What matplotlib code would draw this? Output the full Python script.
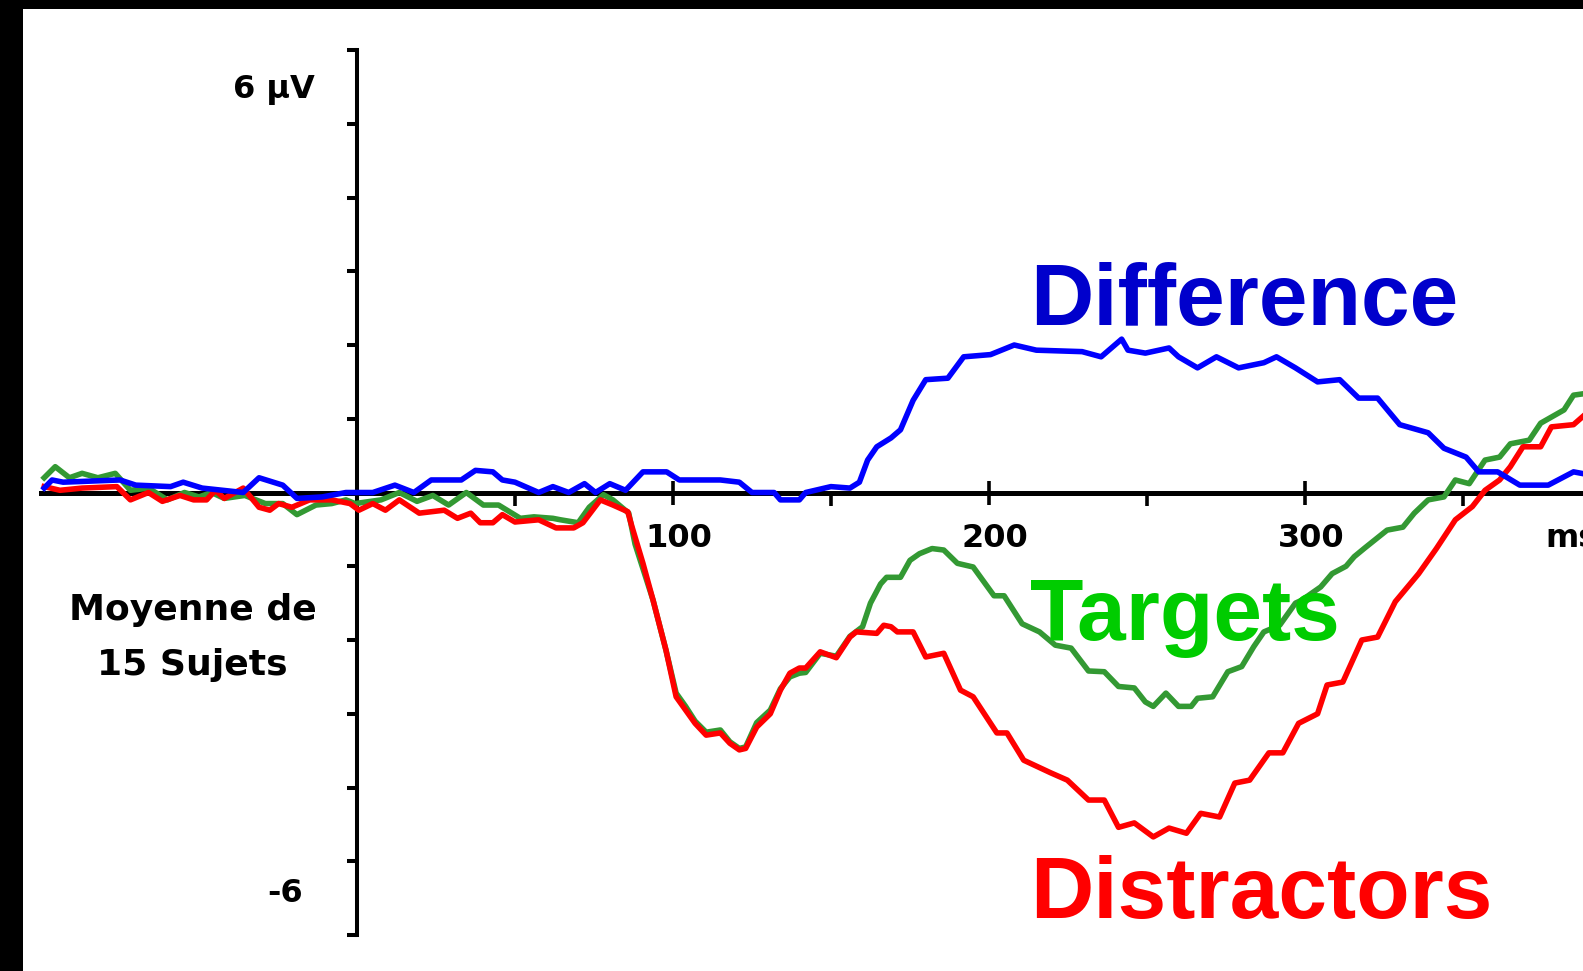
import numpy as np
import matplotlib
matplotlib.use("Agg")
import matplotlib.pyplot as plt

# temps (ms) et amplitudes (µV)
diff_t = [-99, -96.5, -93, -75, -70, -59, -55, -49, -36, -31, -23.5, -19, -11, -3.5, 5, 12, 18,
          23.5, 33, 37.5, 43, 46, 50, 57.5, 62, 67, 72, 75.5, 80, 85, 90.5, 98, 102, 115, 121,
          125, 132, 134, 140, 142, 150, 156, 159, 161.6, 164.5, 169, 172, 176, 180, 187, 192,
          200.5, 208, 215, 229.5, 235.5, 242, 244, 249.5, 257, 260, 266, 272, 279, 287, 291,
          297, 304, 311, 317, 323, 330, 339, 344, 351, 355, 361, 368, 377, 385, 390]
diff_v = [0.06, 0.17, 0.14, 0.17, 0.10, 0.08, 0.14, 0.06, 0.0, 0.2, 0.1, -0.08, -0.06, 0.0, 0.0,
          0.1, 0.0, 0.17, 0.17, 0.3, 0.28, 0.17, 0.14, 0.0, 0.08, 0.0, 0.12, 0.0, 0.12, 0.03,
          0.28, 0.28, 0.17, 0.17, 0.14, 0.0, 0.0, -0.1, -0.1, 0.0, 0.08, 0.06, 0.14, 0.44, 0.62,
          0.74, 0.85, 1.25, 1.53, 1.55, 1.84, 1.87, 2.0, 1.93, 1.91, 1.84, 2.08, 1.93, 1.89,
          1.96, 1.84, 1.69, 1.84, 1.69, 1.76, 1.84, 1.69, 1.50, 1.53, 1.28, 1.28, 0.92, 0.81,
          0.60, 0.48, 0.28, 0.28, 0.10, 0.10, 0.28, 0.24]

tgt_t = [-99, -95.5, -91, -87, -82, -76.5, -71.7, -66, -60, -54.6, -50, -46, -42, -35.5, -29,
         -23.5, -19, -13, -8, -3.5, -0.6, 7.6, 13.4, 19, 24, 29, 34.6, 40, 44.8, 51.7, 56, 62,
         64.4, 70, 73.5, 78, 81, 86, 88, 93.7, 97.8, 101, 104, 107, 110.5, 115, 118, 121, 123,
         126.5, 130.8, 134, 137, 140, 142, 146.6, 151.7, 156, 160, 162.5, 165.7, 167.6, 172,
         175, 178, 182, 185.7, 190, 195, 201.6, 204.8, 210.5, 216, 221, 226, 231.5, 236.5, 241,
         246, 249.5, 252, 256, 260, 264, 266, 270.8, 275.6, 280, 283.8, 287, 292, 297, 299,
         305, 308.6, 313, 315.6, 319, 326, 331, 334.6, 339, 344, 347.6, 352, 357, 361.6, 365,
         371, 374.6, 382, 385, 390]
tgt_v = [0.2, 0.35, 0.2, 0.26, 0.2, 0.26, 0.03, 0.06, -0.1, 0.0, -0.06, 0.0, -0.08, -0.04,
         -0.15, -0.15, -0.3, -0.17, -0.15, -0.1, -0.15, -0.1, 0.0, -0.12, -0.04, -0.17, 0.0,
         -0.17, -0.17, -0.35, -0.33, -0.35, -0.37, -0.41, -0.2, -0.03, -0.1, -0.28, -0.7,
         -1.46, -2.14, -2.72, -2.9, -3.1, -3.25, -3.22, -3.38, -3.47, -3.45, -3.12, -2.95,
         -2.66, -2.5, -2.45, -2.44, -2.18, -2.22, -1.95, -1.82, -1.5, -1.24, -1.15, -1.15,
         -0.92, -0.83, -0.76, -0.78, -0.96, -1.01, -1.40, -1.40, -1.78, -1.89, -2.07, -2.11,
         -2.42, -2.43, -2.63, -2.65, -2.84, -2.9, -2.72, -2.9, -2.9, -2.79, -2.77, -2.43,
         -2.36, -2.09, -1.89, -1.80, -1.50, -1.46, -1.28, -1.1, -1.0, -0.87, -0.75, -0.51,
         -0.47, -0.28, -0.1, -0.06, 0.17, 0.12, 0.44, 0.48, 0.66, 0.71, 0.94, 1.12, 1.32, 1.35]

dst_t = [-99, -94, -87, -76, -71.7, -66, -61.6, -56, -51.7, -47.6, -44.8, -42, -36, -31, -27.6,
         -24.8, -20.6, -15, -8, -2.2, 0.6, 5, 9, 13.4, 19.7, 27.6, 31.8, 36, 39, 43, 46, 50,
         57.5, 63, 68.6, 71.5, 77, 81, 85.7, 87, 90.5, 93.7, 97.8, 101, 104, 107, 110.5, 115,
         118, 121, 123, 126.5, 130.8, 134, 137, 140, 142, 146.6, 151.7, 156, 158, 164.5, 166.7,
         169, 171, 176, 180, 185.7, 191, 195, 202.5, 205.7, 211, 219.5, 224.8, 231.5, 236.5,
         241, 246, 252, 257, 262.5, 267, 273, 277.8, 282.5, 288.6, 293, 298, 304, 307, 312,
         318, 323, 328.6, 336, 341.6, 347.6, 353, 357, 361.6, 365, 369, 374.6, 378, 385, 389]
dst_v = [0.08, 0.03, 0.06, 0.08, -0.1, 0.0, -0.12, -0.04, -0.1, -0.1, 0.03, -0.08, 0.06, -0.2,
         -0.24, -0.15, -0.2, -0.1, -0.1, -0.15, -0.24, -0.15, -0.24, -0.1, -0.28, -0.24, -0.35,
         -0.28, -0.41, -0.41, -0.3, -0.4, -0.37, -0.48, -0.48, -0.41, -0.1, -0.17, -0.26,
         -0.46, -0.96, -1.46, -2.14, -2.77, -2.95, -3.13, -3.29, -3.26, -3.4, -3.49, -3.47,
         -3.18, -3.0, -2.68, -2.45, -2.38, -2.38, -2.16, -2.24, -1.96, -1.89, -1.91, -1.80,
         -1.82, -1.89, -1.89, -2.23, -2.18, -2.68, -2.77, -3.26, -3.26, -3.63, -3.8, -3.9,
         -4.17, -4.17, -4.54, -4.48, -4.67, -4.55, -4.62, -4.35, -4.40, -3.94, -3.90, -3.53,
         -3.53, -3.13, -3.0, -2.61, -2.57, -2.0, -1.96, -1.48, -1.1, -0.76, -0.37, -0.19,
         0.03, 0.17, 0.35, 0.62, 0.62, 0.89, 0.92, 1.07]

major_ticks = [100, 200, 300]
minor_ticks = [50, 150, 250, 350]
y_ticks = list(range(-6, 7))

fig = plt.figure(figsize=(15.83, 9.71), dpi=100, facecolor="black")
ax = fig.add_axes([23 / 1583, 0, 1560 / 1583, 962 / 971], facecolor="white")

ax.plot(tgt_t, tgt_v, color="#339933", lw=4, zorder=2)
ax.plot(dst_t, dst_v, color="#ff0000", lw=4, zorder=3)
ax.plot(diff_t, diff_v, color="#0000ff", lw=4, zorder=4)

ax.set_xlim(-105.7, 388.0)
ax.set_ylim(-6.488, 6.556)

# axes en croix
for s in ["top", "right"]:
    ax.spines[s].set_visible(False)
ax.spines["left"].set_position(("data", 0))
ax.spines["bottom"].set_position(("data", 0))
ax.spines["left"].set_bounds(-6, 6)
ax.spines["bottom"].set_bounds(-100, 388)
ax.spines["left"].set_linewidth(2.9)
ax.spines["bottom"].set_linewidth(3.6)
ax.spines["left"].set_zorder(1)
ax.spines["bottom"].set_zorder(1)

ax.set_yticks(y_ticks)
ax.set_xticks(major_ticks)
ax.set_xticks(minor_ticks, minor=True)
ax.tick_params(axis="y", direction="out", length=7, width=2.9, labelleft=False)
ax.tick_params(axis="x", which="major", direction="inout", length=17, width=2.6, labelbottom=False)
ax.tick_params(axis="x", which="minor", direction="out", length=9.5, width=2.6, labelbottom=False)

lab = dict(family="DejaVu Sans", weight="bold", fontsize=23, color="black")
for t in major_ticks:
    ax.text(t + 2, -0.62, str(t), ha="center", va="center", **lab)
ax.text(376, -0.62, "ms", ha="left", va="center", **lab)
ax.text(-13.3, 5.46, "6 µV", ha="right", va="center", **lab)
ax.text(-17, -5.44, "-6", ha="right", va="center", **lab)
lab2 = dict(lab, fontsize=26)
ax.text(-52, -1.73, "Moyenne de", ha="center", va="baseline", **lab2)
ax.text(-52, -2.47, "15 Sujets", ha="center", va="baseline", **lab2)

big = dict(family="Liberation Sans", weight="bold", fontsize=63, va="baseline", ha="left", zorder=5)
ax.text(213, 2.27, "Difference", color="#0000cc", **big)
ax.text(213, -2.0, "Targets", color="#00cc00", **big)
ax.text(213, -5.77, "Distractors", color="#ff0000", **big)

fig.savefig("out.png", dpi=100, facecolor=fig.get_facecolor())
